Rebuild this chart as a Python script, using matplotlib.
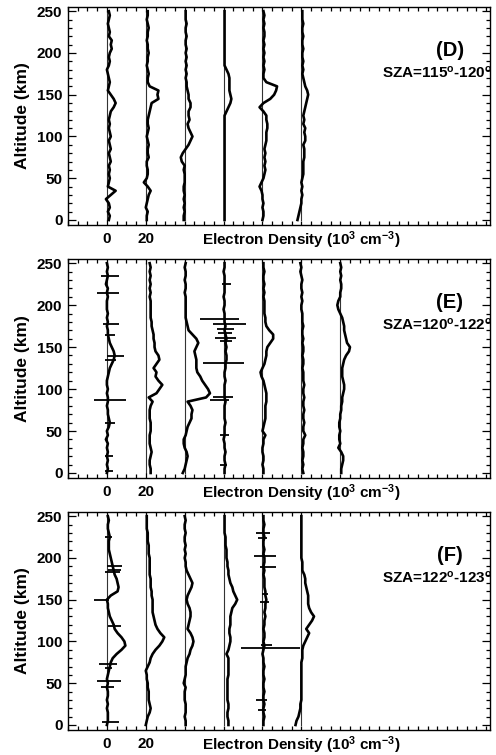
import numpy as np
import matplotlib
matplotlib.use("Agg")
import matplotlib.pyplot as plt
from matplotlib.ticker import FixedLocator, MultipleLocator

plt.rcParams['font.family'] = ['Liberation Sans', 'DejaVu Sans']
plt.rcParams['font.weight'] = 'bold'
plt.rcParams['mathtext.fontset'] = 'custom'
plt.rcParams['mathtext.rm'] = 'Liberation Sans:bold'
plt.rcParams['mathtext.bf'] = 'Liberation Sans:bold'
plt.rcParams['mathtext.it'] = 'Liberation Sans:bold'

# Altitude grid (km)
altitude = np.arange(0, 251, 5)

# ---------------- Panel D : SZA 115-120 ----------------
D1 = [1.0, 1.5, 0.5, 1.5, 1.0, -0.5, 2.0, 4.5, 0.5, 1.0,
      1.5, 1.0, 1.5, 1.0, 2.0, 1.5, 1.0, 2.0, 1.5, 1.0,
      2.0, 1.5, 1.0, 1.5, 1.0, 1.5, 2.0, 3.5, 4.5, 3.5,
      2.0, 0.5, 1.0, 1.5, 1.0, 0.5, 0.0, 1.0, 1.5, 1.0,
      1.5, 2.5, 2.0, 2.5, 1.0, 1.5, 1.0, 0.5, 1.0, 1.5,
      1.0]
D2 = [0.5, 0.5, 1.0, 0.0, 0.5, 1.0, 1.5, 2.5, 1.0, -1.0,
      0.5, 1.0, 1.0, 0.5, 0.5, 1.5, 1.0, 1.0, 1.5, 1.0,
      0.5, 1.0, 1.5, 1.0, 1.0, 1.5, 2.0, 2.5, 3.0, 6.5,
      6.0, 6.5, 2.0, 1.0, 1.0, 1.5, 1.0, 0.5, 1.0, 1.0,
      1.5, 1.0, 1.0, 0.5, 1.0, 1.0, 1.5, 1.0, 0.5, 1.0,
      1.0]
D3 = [-0.5, -0.5, 0.0, -0.5, 0.0, -0.5, 0.0, -0.5, -0.5, 0.0,
      0.0, 0.0, -0.5, 0.0, -1.5, -2.0, -1.0, 0.5, 2.0, 3.0,
      4.0, 3.0, 2.0, 1.5, 2.5, 2.0, 2.0, 3.0, 3.0, 2.0,
      2.0, 1.5, 1.0, 1.0, 0.5, 1.0, 0.5, 1.0, 0.5, 1.0,
      0.5, 1.0, 0.5, 0.5, 1.0, 0.5, 0.5, 1.0, 0.5, 0.5,
      0.5]
D4 = [0.5, 0.5, 0.5, 0.5, 0.5, 0.5, 0.5, 0.5, 0.5, 0.5,
      0.5, 0.5, 0.5, 0.5, 0.5, 0.5, 0.5, 0.5, 0.5, 0.5,
      0.5, 0.5, 0.5, 0.5, 0.5, 0.5, 1.5, 2.5, 3.5, 4.0,
      3.5, 3.0, 3.0, 3.0, 3.0, 2.5, 1.5, 0.5, 0.5, 0.5,
      0.5, 0.5, 0.5, 0.5, 0.5, 0.5, 0.5, 0.5, 0.5, 0.5,
      0.5]
D5 = [0.0, 0.5, 0.5, 0.0, 0.5, 0.0, 0.0, -0.5, -1.5, -0.5,
      0.5, 1.0, 1.5, 1.0, 1.5, 1.0, 1.5, 1.0, 1.5, 2.0,
      2.0, 2.0, 2.5, 2.5, 2.0, 2.0, 0.5, -1.5, 0.5, 4.0,
      6.0, 7.0, 7.5, 2.0, 0.5, 0.5, 1.0, 0.5, 1.0, 0.5,
      1.0, 0.5, 1.0, 0.5, 1.0, 1.0, 0.5, 1.0, 0.5, 1.0,
      0.5]
D6 = [-2.0, -1.5, -1.0, -0.5, 0.0, 0.0, 0.5, 0.0, 0.5, 0.0,
      0.5, 1.0, 1.0, 1.0, 1.0, 1.5, 1.5, 1.5, 1.0, 2.0,
      2.0, 1.5, 2.0, 1.0, 1.5, 1.0, 1.5, 2.0, 2.5, 3.0,
      3.5, 3.0, 2.0, 1.5, 1.0, 0.5, 1.0, 0.5, 1.0, 0.5,
      0.5, 1.0, 0.5, 0.5, 1.0, 0.5, 0.5, 1.0, 0.5, 0.5,
      0.5]

# ---------------- Panel E : SZA 120-122 ----------------
E1 = [0.0, 0.5, 0.0, 0.5, 0.0, 0.5, 0.0, 0.5, -0.5, 0.5,
      0.0, 1.0, 1.5, 1.0, 0.5, 0.5, 0.0, 0.5, 0.5, 0.0,
      0.5, 0.0, 0.0, 0.5, 1.0, 1.5, 2.5, 3.5, 4.0, 3.5,
      2.5, 1.5, 1.0, 0.5, 0.5, 0.0, 0.5, 0.0, 0.5, 0.0,
      0.0, 0.0, 0.5, 0.0, 0.5, -0.5, 0.0, 0.5, 0.0, 0.5,
      0.0]
E2 = [2.5, 2.5, 2.0, 2.0, 2.5, 3.0, 2.5, 2.0, 2.0, 2.0,
      2.5, 2.5, 2.5, 2.0, 2.0, 2.0, 2.5, 3.5, 1.5, 5.5,
      7.0, 8.5, 6.5, 5.0, 5.5, 4.0, 5.5, 7.0, 6.5, 5.0,
      4.5, 4.5, 4.0, 4.0, 3.5, 3.0, 3.0, 2.5, 2.5, 2.5,
      2.5, 2.5, 2.0, 2.5, 2.0, 2.5, 2.0, 2.5, 2.0, 2.5,
      2.0]
E3 = [-1.0, 0.0, 0.5, 1.0, 1.5, 1.0, 0.0, -0.5, -0.5, 0.5,
      1.0, 1.5, 2.5, 3.5, 3.5, 4.0, 3.0, 1.5, 11.0, 13.0,
      12.0, 10.5, 9.0, 8.0, 6.5, 6.0, 6.0, 6.0, 5.5, 5.0,
      6.0, 7.0, 6.0, 4.0, 2.0, 1.5, 1.0, 0.5, 0.5, 0.5,
      0.5, 0.5, 0.5, 0.0, 0.5, 0.5, 0.0, 0.5, 0.5, 0.0,
      0.5]
E4 = [0.5, 0.5, 1.0, 0.5, 0.5, 1.0, 0.5, 0.5, 0.0, 0.5,
      0.5, 0.5, 1.0, 0.5, 0.5, 0.5, 0.5, 1.0, 0.5, 0.5,
      0.5, 0.5, 1.0, 0.5, 0.5, 1.0, 1.0, 1.5, 1.5, 1.0,
      1.5, 1.0, 1.5, 1.0, 0.5, 1.0, 0.5, 0.5, 0.5, 0.0,
      0.5, 0.5, 0.0, 0.5, 0.5, 0.5, 0.5, 0.5, 0.0, 0.5,
      0.5]
E5 = [0.5, 0.5, 0.0, 0.5, 0.5, 0.0, 0.0, 0.5, 0.5, 1.5,
      0.0, 0.5, 1.0, 1.5, 1.5, 1.5, 1.5, 2.0, 2.0, 2.0,
      1.5, 1.0, 0.5, -0.5, -1.0, 0.0, 1.0, 1.5, 2.0, 2.0,
      2.5, 4.0, 5.5, 5.5, 3.5, 2.0, 1.5, 1.5, 1.0, 1.0,
      1.0, 1.0, 0.5, 1.0, 0.5, 1.0, 0.5, 0.5, 1.0, 0.5,
      0.5]
E6 = [1.0, 0.5, 1.0, 0.5, 1.0, 1.0, 0.5, 1.0, 1.0, 2.0,
      1.0, 1.0, 1.5, 1.0, 1.0, 1.5, 1.0, 1.0, 1.5, 1.0,
      1.0, 1.5, 1.0, 1.0, 1.0, 0.5, 1.0, 1.0, 0.5, 1.0,
      1.0, 0.5, 1.0, 0.5, 0.5, 1.0, 0.5, 0.5, 0.5, 0.0,
      0.0, 0.5, 0.0, 0.5, 0.0, 0.0, 0.5, 0.0, -0.5, 0.0,
      -0.5]
E7 = [0.5, 0.5, 1.0, 1.5, 1.5, 0.5, -1.0, 0.0, -0.5, -0.5,
      0.0, -0.5, -0.5, 0.0, 0.0, 0.5, 0.5, 1.0, 1.0, 1.5,
      2.0, 2.0, 1.5, 1.0, 1.0, 1.0, 1.5, 2.0, 3.0, 4.5,
      5.0, 3.5, 3.0, 2.5, 2.0, 2.0, 1.5, 1.0, 0.0, -1.0,
      -1.5, -1.0, 0.0, 0.0, 0.5, 0.5, 0.0, 0.5, 0.0, 0.5,
      0.0]

# ---------------- Panel F : SZA 122-123 ----------------
F1 = [0.0, 0.5, 0.5, 0.5, 0.0, 0.5, 0.0, 0.5, 0.5, 0.0,
      0.5, 0.0, 0.5, 1.0, 1.5, 2.0, 3.0, 5.0, 7.5, 9.5,
      9.0, 7.5, 5.5, 4.0, 3.5, 2.5, 1.5, 1.0, 0.5, 0.5,
      0.0, 2.0, 5.5, 6.0, 5.5, 5.0, 4.0, 3.5, 3.0, 2.5,
      2.0, 1.5, 1.0, 1.0, 1.0, 1.5, 1.0, 0.5, 0.5, 1.0,
      0.5]
F2 = [0.0, 0.5, 1.0, 2.0, 2.5, 2.0, 1.5, 1.5, 1.5, 1.0,
      1.0, 0.5, 0.5, 0.0, 1.0, 2.0, 2.5, 3.5, 5.0, 7.0,
      8.5, 9.5, 7.5, 6.0, 5.0, 4.5, 4.0, 3.5, 3.5, 3.5,
      3.5, 3.0, 3.0, 2.5, 2.5, 2.5, 2.0, 2.0, 2.0, 2.0,
      2.0, 1.5, 1.5, 1.5, 1.0, 1.0, 1.0, 0.5, 0.5, 0.5,
      0.5]
F3 = [0.5, 0.5, 0.0, 0.5, 0.5, 0.5, 0.0, 0.0, 0.0, 0.5,
      -0.5, 0.0, 0.5, 0.5, 0.5, 1.0, 1.5, 2.5, 3.0, 4.0,
      4.5, 4.0, 3.0, 1.5, 2.0, 2.5, 3.0, 3.0, 2.5, 1.5,
      1.0, 1.5, 2.5, 3.5, 4.0, 3.0, 2.0, 1.0, 0.5, 0.5,
      0.0, 0.5, 0.0, 0.5, 0.0, 0.0, 0.5, 0.0, 0.0, 0.5,
      0.0]
F4 = [2.5, 2.5, 2.0, 2.0, 2.5, 2.5, 2.0, 2.0, 2.0, 2.0,
      2.0, 2.0, 2.5, 2.5, 2.5, 2.5, 2.5, 1.5, 2.5, 3.0,
      3.5, 3.5, 3.0, 3.0, 3.5, 3.5, 3.5, 4.0, 4.5, 6.0,
      7.0, 6.0, 5.0, 4.5, 3.5, 3.0, 2.5, 2.5, 2.0, 2.0,
      1.5, 1.5, 1.5, 1.0, 1.0, 1.0, 0.5, 0.5, 0.5, 0.5,
      0.5]
F5 = [0.5, 0.5, 1.0, 0.5, 0.5, 1.0, 0.5, 0.5, 1.0, 0.5,
      0.5, 1.0, 0.5, 0.5, 1.0, 0.5, 0.5, 0.0, 0.5, 1.0,
      0.5, 1.0, 1.0, 0.5, 1.0, 1.0, 1.5, 1.0, 1.5, 1.5,
      2.0, 1.5, 1.5, 1.0, 1.0, 1.0, 0.5, 1.0, 0.5, 1.0,
      1.0, 0.5, 1.0, 0.5, 0.5, 1.0, 0.5, 0.5, 1.0, 0.5,
      0.5]
F6 = [-3.0, -2.5, -1.5, -1.0, -0.5, -0.5, 0.0, 0.0, 0.0, 0.0,
      0.0, 0.0, 0.0, 0.0, 0.0, 0.0, 0.5, 0.5, 0.5, 1.0,
      2.0, 3.0, 4.0, 2.5, 4.0, 5.5, 6.5, 5.0, 4.0, 3.5,
      3.5, 3.5, 3.0, 2.5, 2.0, 2.0, 1.5, 0.5, 0.5, 0.5,
      0.0, 0.0, 0.0, 0.0, 0.0, 0.0, 0.0, 0.0, 0.0, 0.0,
      0.0]

# Spikes: (profile index, altitude km, low, high) in 10^3 cm^-3
E_spikes = [(0, 235, -3, 6), (0, 215, -5, 6), (0, 178, -2, 6), (0, 165, -1, 4),
            (0, 139, 0, 9), (0, 135, -1, 4.5), (0, 87, -6.5, 10), (0, 60, -1, 4),
            (0, 20, -1, 3), (0, 2, -1, 3),
            (3, 225, -1, 4), (3, 184, -12, 8), (3, 178, -5.5, 11.5), (3, 171, -3.5, 5.5),
            (3, 167, -3, 4.5), (3, 161, -4.5, 6.5), (3, 157, -2, 4.5), (3, 131, -10.5, 10.5),
            (3, 90, -5.5, 5), (3, 87, -7, 3), (3, 45, -2, 3), (3, 10, -2, 2)]
F_spikes = [(0, 225, -1, 2.5), (0, 190, 0, 8), (0, 186, 0.5, 7), (0, 183, -1, 6.5),
            (0, 150, -6.5, 1), (0, 118, 0.5, 7), (0, 73, -4, 5), (0, 68, -1, 2.5),
            (0, 53, -5, 7.5), (0, 46, -3, 3.5), (0, 3, -2.5, 6),
            (4, 230, -3.5, 4), (4, 224, -2.5, 2.5), (4, 202, -4.5, 7), (4, 189, -1.5, 7),
            (4, 157, 0, 3), (4, 147, -1.5, 3.5), (4, 96, -0.5, 5), (4, 92, -11, 19.5),
            (4, 30, -3.5, 2.5), (4, 18, -2.5, 2)]

panels = [
    dict(label="(D)", sza="SZA=115$^{o}$-120$^{o}$", profiles=[D1, D2, D3, D4, D5, D6], spikes=[]),
    dict(label="(E)", sza="SZA=120$^{o}$-122$^{o}$", profiles=[E1, E2, E3, E4, E5, E6, E7], spikes=E_spikes),
    dict(label="(F)", sza="SZA=122$^{o}$-123$^{o}$", profiles=[F1, F2, F3, F4, F5, F6], spikes=F_spikes),
]
offset_step = 20
x_ticks = [0, 20]
x_ticklabels = ["0", "20"]
y_ticks = [0, 50, 100, 150, 200, 250]

W, H = 496, 755
fig = plt.figure(figsize=(W / 100, H / 100), dpi=100)

# axes boxes in pixels: (left, top, right, bottom)
boxes = [(68, 7, 490, 225), (68, 259, 490, 478), (68, 512, 490, 730)]

for box, p in zip(boxes, panels):
    l, t, r, b = box
    ax = fig.add_axes([l / W, 1 - b / H, (r - l) / W, (b - t) / H])
    for i, prof in enumerate(p["profiles"]):
        off = i * offset_step
        ax.plot([off, off], [0, 250], color='#333333', lw=0.8, zorder=1)
        ax.plot(np.array(prof) + off, altitude, color='black', lw=1.9, zorder=2)
    for (i, alt, lo, hi) in p["spikes"]:
        off = i * offset_step
        ax.hlines(alt, off + lo, off + hi, color='black', lw=1.3, zorder=3)
    ax.set_xlim(-20, 197)
    ax.set_ylim(-6, 255)
    ax.xaxis.set_major_locator(FixedLocator(x_ticks))
    ax.set_xticklabels(x_ticklabels)
    ax.xaxis.set_minor_locator(MultipleLocator(5))
    ax.yaxis.set_major_locator(FixedLocator(y_ticks))
    ax.yaxis.set_minor_locator(MultipleLocator(10))
    ax.tick_params(axis='both', which='both', direction='in', top=True, right=True,
                   labelsize=11, width=0.9)
    ax.tick_params(axis='x', which='major', length=3.5, pad=5)
    ax.tick_params(axis='x', which='minor', length=3)
    ax.tick_params(axis='y', which='major', length=6, pad=4)
    ax.tick_params(axis='y', which='minor', length=3)
    for lab in ax.get_xticklabels() + ax.get_yticklabels():
        lab.set_fontweight('bold')
    for s in ax.spines.values():
        s.set_linewidth(1.0)
    ax.set_ylabel("Altitude (km)", fontsize=12.5, fontweight='bold', labelpad=5)
    ax.text(0.552, -0.07, "Electron Density (10$^{3}$ cm$^{-3}$)",
            transform=ax.transAxes, ha='center', va='center', fontsize=11, fontweight='bold')
    ax.text(0.905, 0.80, p["label"], transform=ax.transAxes, ha='center', va='center',
            fontsize=14.5, fontweight='bold')
    ax.text(0.744, 0.70, p["sza"], transform=ax.transAxes, ha='left', va='center',
            fontsize=11, fontweight='bold', clip_on=False)

fig.savefig("out.png", dpi=100)
